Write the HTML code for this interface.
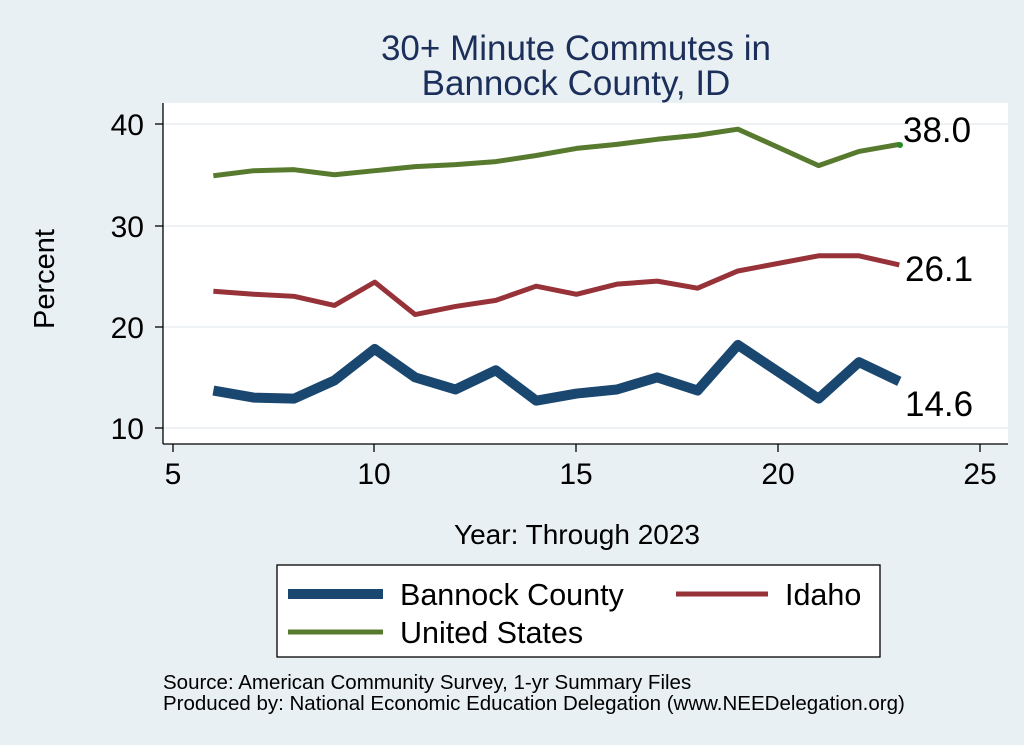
<!DOCTYPE html>
<html><head><style>
body{margin:0;background:#e9f0f3;}
svg{display:block;font-family:"Liberation Sans",Arial,sans-serif;}
</style></head><body>
<svg width="1024" height="745" viewBox="0 0 1024 745">
<rect width="1024" height="745" fill="#e9f0f3"/>
<rect x="163" y="103" width="845" height="341" fill="#fff"/>
<g stroke="#e8eef1" stroke-width="1.5">
<line x1="163" x2="1008" y1="124" y2="124"/>
<line x1="163" x2="1008" y1="226" y2="226"/>
<line x1="163" x2="1008" y1="327" y2="327"/>
<line x1="163" x2="1008" y1="428" y2="428"/>
</g>
<g stroke="#000" stroke-width="1.3">
<line x1="163" y1="103" x2="163" y2="444"/>
<line x1="163" y1="444" x2="1008" y2="444"/>
<line x1="155" x2="163" y1="124" y2="124"/><line x1="155" x2="163" y1="226" y2="226"/>
<line x1="155" x2="163" y1="327" y2="327"/><line x1="155" x2="163" y1="428" y2="428"/>
<line x1="173" x2="173" y1="444" y2="452"/><line x1="374" x2="374" y1="444" y2="452"/>
<line x1="576" x2="576" y1="444" y2="452"/><line x1="778" x2="778" y1="444" y2="452"/>
<line x1="980" x2="980" y1="444" y2="452"/>
</g>
<g font-size="30" text-anchor="end">
<text x="144" y="135">40</text><text x="144" y="237">30</text>
<text x="144" y="338">20</text><text x="144" y="439">10</text>
</g>
<g font-size="30" text-anchor="middle">
<text x="173" y="484">5</text><text x="374" y="484">10</text><text x="576" y="484">15</text>
<text x="778" y="484">20</text><text x="980" y="484">25</text>
</g>
<text x="577" y="544" font-size="28" text-anchor="middle">Year: Through 2023</text>
<text transform="translate(54,279) rotate(-90)" font-size="29" text-anchor="middle">Percent</text>
<g font-size="35" fill="#1c2e5a" text-anchor="middle">
<text x="576" y="60">30+ Minute Commutes in</text>
<text x="576" y="95">Bannock County, ID</text>
</g>
<g fill="none" stroke-linejoin="round" transform="translate(-28.75,529.3) scale(40.35,-10.13)">
<polyline vector-effect="non-scaling-stroke" stroke="#577a2e" stroke-width="5" points="6,34.9 7,35.4 8,35.5 9,35 10,35.4 11,35.8 12,36 13,36.3 14,36.9 15,37.6 16,38 17,38.5 18,38.9 19,39.5 21,35.9 22,37.3 23,38.0"/>
<polyline vector-effect="non-scaling-stroke" stroke="#963238" stroke-width="5" points="6,23.5 7,23.2 8,23 9,22.1 10,24.4 11,21.2 12,22 13,22.6 14,24 15,23.2 16,24.2 17,24.5 18,23.8 19,25.5 21,27 22,27 23,26.1"/>
<polyline vector-effect="non-scaling-stroke" stroke="#1a476f" stroke-width="10" points="6,13.7 7,13 8,12.9 9,14.7 10,17.8 11,15 12,13.8 13,15.7 14,12.7 15,13.4 16,13.8 17,15 18,13.7 19,18.2 21,12.9 22,16.5 23,14.6"/>
</g>
<circle cx="900" cy="145" r="3" fill="#2a8a2a"/>
<g font-size="35">
<text x="903" y="142">38.0</text>
<text x="905" y="281">26.1</text>
<text x="905" y="416">14.6</text>
</g>
<rect x="277" y="565" width="603" height="92" fill="#fff" stroke="#000" stroke-width="1.3"/>
<line x1="288" x2="383" y1="594" y2="594" stroke="#1a476f" stroke-width="10"/>
<line x1="676" x2="768" y1="594" y2="594" stroke="#963238" stroke-width="5"/>
<line x1="288" x2="383" y1="632" y2="632" stroke="#577a2e" stroke-width="5"/>
<g font-size="30.5">
<text x="400" y="605">Bannock County</text>
<text x="785" y="605">Idaho</text>
<text x="400" y="643">United States</text>
</g>
<g font-size="20.5">
<text x="163" y="689">Source: American Community Survey, 1-yr Summary Files</text>
<text x="163" y="710">Produced by: National Economic Education Delegation (www.NEEDelegation.org)</text>
</g>
</svg>
</body></html>
